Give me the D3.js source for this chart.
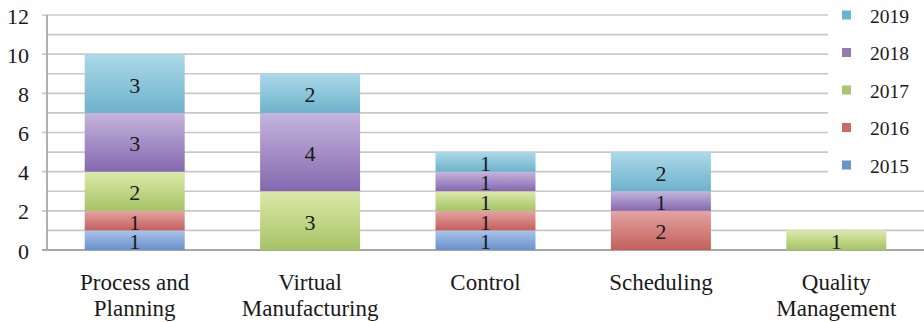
<!DOCTYPE html>
<html>
<head>
<meta charset="utf-8">
<script src="https://cdn.jsdelivr.net/npm/d3@7"></script>
<style>
  html, body { margin: 0; padding: 0; background: #fff; }
  svg { display: block; }
  svg text { font-family: "Liberation Serif", "Tinos", "Times New Roman", serif; }
</style>
</head>
<body>
<svg id="chart" width="924" height="322"></svg>
<script>
// Publications per topic, stacked by year
const categories = [["Process and", "Planning"], ["Virtual", "Manufacturing"], ["Control"], ["Scheduling"], ["Quality", "Management"]];
const years = ["2015", "2016", "2017", "2018", "2019"];
const v2015 = [1, 0, 1, 0, 0];
const v2016 = [1, 0, 1, 2, 0];
const v2017 = [2, 3, 1, 0, 1];
const v2018 = [3, 4, 1, 1, 0];
const v2019 = [3, 2, 1, 2, 0];
const yTicks = [0, 2, 4, 6, 8, 10, 12];

const seriesValues = [v2015, v2016, v2017, v2018, v2019];
const baseColors = ["#4f81bd", "#c0504d", "#9bbb59", "#8064a2", "#4bacc6"];
const topColors = ["#a9c4ea", "#e3a4a2", "#dce9a9", "#c5b5dc", "#acd9e8"];
const bottomColors = ["#6890cc", "#c45f5b", "#a6c366", "#8468b0", "#6db2cb"];

const INK = "#1a1a1a";

const svg = d3.select("#chart");
const plotLeft = 47, plotRight = 924, plotTop = 15, plotBottom = 250;

const keys = categories.map((c, i) => i);
const x = d3.scaleBand().domain(keys).range([plotLeft, plotRight]).paddingInner(0.43).paddingOuter(0.215);
const y = d3.scaleLinear().domain([0, 12]).range([plotBottom, plotTop]);

// vertical gradients for each year
const defs = svg.append("defs");
years.forEach((yr, i) => {
  const g = defs.append("linearGradient").attr("id", "grad" + yr)
    .attr("x1", 0).attr("y1", 0).attr("x2", 0).attr("y2", 1);
  g.append("stop").attr("offset", "0%").attr("stop-color", topColors[i]);
  g.append("stop").attr("offset", "100%").attr("stop-color", bottomColors[i]);
});

// gridlines every unit; upper ones stop at the legend
const legendX = 828;
d3.range(1, 13).forEach(v => {
  svg.append("line")
    .attr("x1", v % 2 === 0 ? 42 : plotLeft).attr("x2", v >= 4 ? legendX : plotRight)
    .attr("y1", y(v)).attr("y2", y(v))
    .attr("stroke", "#c8c8c8").attr("stroke-width", 1.6);
});
// baseline
svg.append("line").attr("x1", 42).attr("x2", plotRight).attr("y1", y(0)).attr("y2", y(0))
  .attr("stroke", "#a8a8a8").attr("stroke-width", 1.8);
// vertical axis line
svg.append("line").attr("x1", plotLeft).attr("x2", plotLeft).attr("y1", y(12)).attr("y2", y(0))
  .attr("stroke", "#a8a8a8").attr("stroke-width", 1.8);

// y tick labels
svg.append("g").selectAll("text").data(yTicks).join("text")
  .attr("x", 29).attr("y", d => y(d) + 1)
  .attr("text-anchor", "end").attr("dominant-baseline", "central")
  .attr("fill", INK)
  .attr("font-size", 22).text(d => d);

// stacked bars
const table = keys.map(i => {
  const row = { key: i };
  years.forEach((yr, s) => row[yr] = seriesValues[s][i]);
  return row;
});
const stacked = d3.stack().keys(years)(table);

stacked.forEach(layer => {
  const g = svg.append("g");
  layer.forEach(d => {
    const val = d[1] - d[0];
    if (val <= 0) return;
    g.append("rect")
      .attr("x", x(d.data.key)).attr("width", x.bandwidth())
      .attr("y", y(d[1])).attr("height", y(d[0]) - y(d[1]))
      .attr("fill", `url(#grad${layer.key})`);
  });
});
stacked.forEach(layer => {
  layer.forEach(d => {
    const val = d[1] - d[0];
    if (val <= 0) return;
    svg.append("text")
      .attr("x", x(d.data.key) + x.bandwidth() / 2)
      .attr("y", (y(d[0]) + y(d[1])) / 2 + 1.5)
      .attr("text-anchor", "middle").attr("dominant-baseline", "central")
      .attr("fill", INK)
      .attr("font-size", 22).text(val);
  });
});

// category labels
categories.forEach((lines, i) => {
  const cx = x(i) + x.bandwidth() / 2;
  const t = svg.append("text")
    .attr("x", cx).attr("y", 290)
    .attr("text-anchor", "middle").attr("font-size", 23)
    .attr("fill", INK);
  lines.forEach((ln, k) => {
    t.append("tspan").attr("x", cx).attr("dy", k === 0 ? 0 : 25.5).text(ln);
  });
});

// legend (latest year on top)
const legendYears = years.slice().reverse();
const lg = svg.append("g");
legendYears.forEach((yr, k) => {
  const idx = years.indexOf(yr);
  const cy = 15 + k * 37.5;
  lg.append("rect").attr("x", 842).attr("y", cy - 4.5).attr("width", 9).attr("height", 9)
    .attr("fill", baseColors[idx]).attr("opacity", 0.85);
  lg.append("text").attr("x", 870).attr("y", cy + 1).attr("dominant-baseline", "central")
    .attr("fill", INK)
    .attr("font-size", 19.5).text(yr);
});
</script>
</body>
</html>
